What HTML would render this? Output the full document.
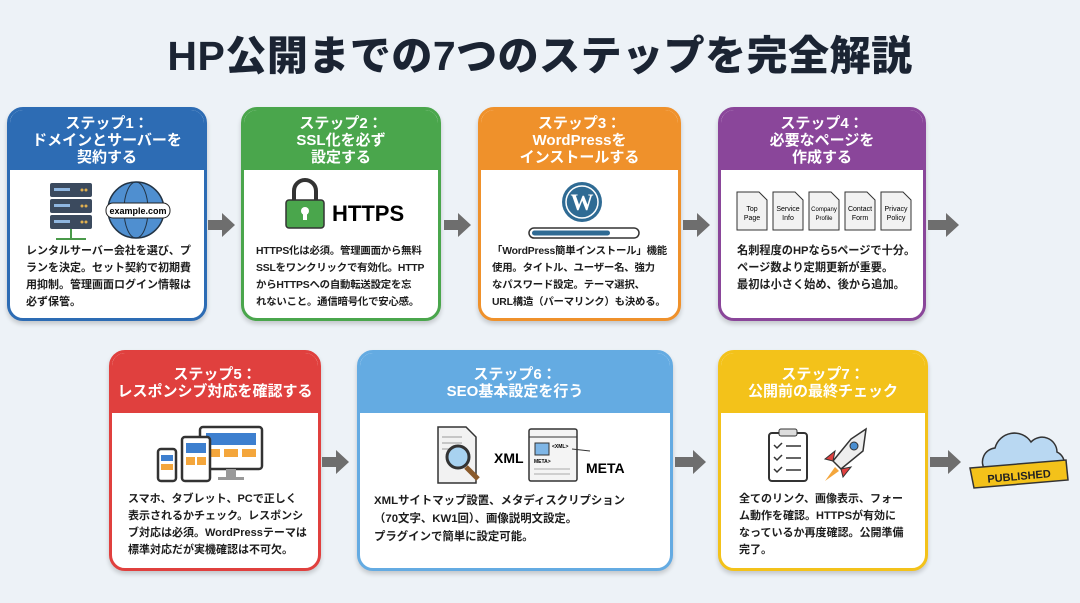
<!DOCTYPE html>
<html><head><meta charset="utf-8"><style>
*{margin:0;padding:0;box-sizing:border-box}
body{width:1080px;height:603px;background:#edf2f7;position:relative;overflow:hidden;font-family:"Liberation Sans","Noto Sans CJK JP",sans-serif;color:#1d1d1d}
h1{position:absolute;left:0;top:22px;width:1080px;text-align:center;font-size:41px;font-weight:900;color:#1b2433;letter-spacing:0.5px}
.card{position:absolute;border-radius:16px;border:3px solid;background:#fff;overflow:hidden;box-shadow:0 3px 5px rgba(0,0,0,.18)}
.hd{color:#fff;font-weight:700;font-size:15px;line-height:17px;text-align:center;display:flex;align-items:center;justify-content:center;flex-direction:column}
.tx{position:absolute;font-size:11px;font-weight:700;line-height:17px;color:#1d1d1d;white-space:nowrap}
</style></head><body>
<h1>HP公開までの7つのステップを完全解説</h1>

<div class="card" style="left:7px;top:107px;width:200px;height:214px;border-color:#2d6cb4">
<div class="hd" style="background:#2d6cb4;height:60px">ステップ1：<br>ドメインとサーバーを<br>契約する</div>
<svg style="position:absolute;left:36px;top:70px" width="130" height="65">
<g fill="#3b4a5e"><rect x="4" y="3" width="42" height="14" rx="2"/><rect x="4" y="19" width="42" height="14" rx="2"/><rect x="4" y="35" width="42" height="14" rx="2"/></g>
<g fill="#8fb6e0"><rect x="8" y="8" width="16" height="3"/><rect x="8" y="24" width="16" height="3"/><rect x="8" y="40" width="16" height="3"/></g>
<g fill="#e0b050"><circle cx="36" cy="10" r="1.5"/><circle cx="40" cy="10" r="1.5"/><circle cx="36" cy="26" r="1.5"/><circle cx="40" cy="26" r="1.5"/><circle cx="36" cy="42" r="1.5"/><circle cx="40" cy="42" r="1.5"/></g>
<line x1="25" y1="49" x2="25" y2="59" stroke="#4a9a4a" stroke-width="2"/><line x1="10" y1="59" x2="40" y2="59" stroke="#4a9a4a" stroke-width="2"/>
<circle cx="90" cy="30" r="28" fill="#4f8fd0" stroke="#234" stroke-width="1.5"/>
<ellipse cx="90" cy="30" rx="12" ry="28" fill="none" stroke="#234"/><line x1="62" y1="30" x2="118" y2="30" stroke="#234"/>
<rect x="60" y="23" width="64" height="15" rx="7" fill="#fff" stroke="#222"/>
<text x="92" y="34" font-size="9" text-anchor="middle" font-family="Liberation Sans" font-weight="bold">example.com</text>
</svg>
<div class="tx" style="left:16px;top:133px">レンタルサーバー会社を選び、プ<br>ランを決定。セット契約で初期費<br>用抑制。管理画面ログイン情報は<br>必ず保管。</div>
</div>

<div class="card" style="left:241px;top:107px;width:200px;height:214px;border-color:#4aa64c">
<div class="hd" style="background:#4aa64c;height:60px">ステップ2：<br>SSL化を必ず<br>設定する</div>
<svg style="position:absolute;left:38px;top:68px" width="140" height="52">
<path d="M12 22 V13 a11 11 0 0 1 22 0 V22" fill="none" stroke="#333" stroke-width="4"/>
<rect x="4" y="22" width="38" height="28" rx="3" fill="#4aa64c" stroke="#333" stroke-width="1.5"/>
<circle cx="23" cy="33" r="4" fill="#fff"/><rect x="21" y="34" width="4" height="8" fill="#fff"/>
<text x="50" y="43" font-size="22" font-weight="bold" font-family="Liberation Sans">HTTPS</text>
</svg>
<div class="tx" style="left:12px;top:133px;font-size:10.4px;letter-spacing:-0.2px">HTTPS化は必須。管理画面から無料<br>SSLをワンクリックで有効化。HTTP<br>からHTTPSへの自動転送設定を忘<br>れないこと。通信暗号化で安心感。</div>
</div>

<div class="card" style="left:478px;top:107px;width:203px;height:214px;border-color:#ef912b">
<div class="hd" style="background:#ef912b;height:60px">ステップ3：<br>WordPressを<br>インストールする</div>
<svg style="position:absolute;left:46px;top:70px" width="115" height="60">
<circle cx="55" cy="22" r="20" fill="#2f6b94"/><circle cx="55" cy="22" r="16" fill="none" stroke="#fff" stroke-width="1.5"/>
<text x="55" y="30" font-size="23" text-anchor="middle" fill="#fff" font-family="Liberation Serif" font-weight="bold">W</text>
<rect x="2" y="48" width="110" height="10" rx="5" fill="#fff" stroke="#333" stroke-width="1.5"/>
<rect x="5" y="50.5" width="78" height="5" rx="2.5" fill="#2f6b94"/>
</svg>
<div class="tx" style="left:11px;top:133px;font-size:10.4px;letter-spacing:-0.2px">「WordPress簡単インストール」機能<br>使用。タイトル、ユーザー名、強力<br>なパスワード設定。テーマ選択、<br>URL構造（パーマリンク）も決める。</div>
</div>

<div class="card" style="left:718px;top:107px;width:208px;height:214px;border-color:#8a469a">
<div class="hd" style="background:#8a469a;height:60px">ステップ4：<br>必要なページを<br>作成する</div>
<svg style="position:absolute;left:14px;top:80px" width="180" height="42" font-family="Liberation Sans" font-size="7" text-anchor="middle">
<g fill="#f2f2f2" stroke="#333" stroke-width="1">
<path d="M2 2 H24 L32 10 V40 H2Z"/><path d="M38 2 H60 L68 10 V40 H38Z"/><path d="M74 2 H96 L104 10 V40 H74Z"/><path d="M110 2 H132 L140 10 V40 H110Z"/><path d="M146 2 H168 L176 10 V40 H146Z"/></g>
<text x="17" y="21">Top</text><text x="17" y="30">Page</text>
<text x="53" y="21">Service</text><text x="53" y="30">Info</text>
<text x="89" y="21" font-size="6">Company</text><text x="89" y="30" font-size="6">Profile</text>
<text x="125" y="21">Contact</text><text x="125" y="30">Form</text>
<text x="161" y="21">Privacy</text><text x="161" y="30">Policy</text>
</svg>
<div class="tx" style="left:16px;top:133px;font-size:11.2px">名刺程度のHPなら5ページで十分。<br>ページ数より定期更新が重要。<br>最初は小さく始め、後から追加。</div>
</div>

<div class="card" style="left:109px;top:350px;width:212px;height:221px;border-color:#e0403e">
<div class="hd" style="background:#e0403e;height:60px">ステップ5：<br>レスポンシブ対応を確認する</div>
<svg style="position:absolute;left:40px;top:72px" width="120" height="62">
<rect x="48" y="2" width="62" height="42" rx="3" fill="#fff" stroke="#333" stroke-width="2.5"/>
<rect x="54" y="8" width="50" height="12" fill="#3d7fcf"/><rect x="54" y="24" width="14" height="8" fill="#f4a63c"/><rect x="72" y="24" width="14" height="8" fill="#f4a63c"/><rect x="90" y="24" width="14" height="8" fill="#f4a63c"/>
<rect x="74" y="44" width="10" height="8" fill="#999"/><rect x="66" y="52" width="26" height="3" fill="#999"/>
<rect x="30" y="12" width="28" height="44" rx="3" fill="#fff" stroke="#333" stroke-width="2.5"/>
<rect x="34" y="18" width="20" height="10" fill="#3d7fcf"/><rect x="34" y="32" width="9" height="8" fill="#f4a63c"/><rect x="45" y="32" width="9" height="8" fill="#f4a63c"/>
<rect x="6" y="24" width="18" height="32" rx="3" fill="#fff" stroke="#333" stroke-width="2.5"/>
<rect x="9" y="30" width="12" height="6" fill="#3d7fcf"/><rect x="9" y="39" width="12" height="6" fill="#f4a63c"/>
</svg>
<div class="tx" style="left:16px;top:138px">スマホ、タブレット、PCで正しく<br>表示されるかチェック。レスポンシ<br>ブ対応は必須。WordPressテーマは<br>標準対応だが実機確認は不可欠。</div>
</div>

<div class="card" style="left:357px;top:350px;width:316px;height:221px;border-color:#64abe2">
<div class="hd" style="background:#64abe2;height:60px">ステップ6：<br>SEO基本設定を行う</div>
<svg style="position:absolute;left:72px;top:72px" width="200" height="62" font-family="Liberation Sans" font-weight="bold">
<path d="M6 2 H34 L44 12 V58 H6Z" fill="#f2f2f2" stroke="#333" stroke-width="1.5"/>
<g stroke="#999"><line x1="10" y1="12" x2="30" y2="12"/><line x1="10" y1="18" x2="30" y2="18"/><line x1="10" y1="24" x2="30" y2="24"/></g>
<line x1="34" y1="42" x2="46" y2="54" stroke="#8a5a2b" stroke-width="5"/>
<circle cx="26" cy="32" r="11" fill="#a8d2f0" stroke="#333" stroke-width="3"/>
<text x="62" y="38" font-size="14">XML</text>
<rect x="97" y="4" width="48" height="52" rx="2" fill="#f4f4f4" stroke="#333" stroke-width="1.5"/>
<line x1="97" y1="12" x2="145" y2="12" stroke="#333"/>
<rect x="103" y="18" width="14" height="12" fill="#7fb6e6" stroke="#333"/>
<text x="120" y="23" font-size="5">&lt;XML&gt;</text><text x="102" y="38" font-size="5">META&gt;</text>
<g stroke="#aaa"><line x1="102" y1="44" x2="138" y2="44"/><line x1="102" y1="49" x2="138" y2="49"/></g>
<line x1="140" y1="24" x2="158" y2="26" stroke="#333"/>
<text x="154" y="48" font-size="14">META</text>
</svg>
<div class="tx" style="left:14px;top:139px;font-size:11.4px;line-height:18px">XMLサイトマップ設置、メタディスクリプション<br>（70文字、KW1回）、画像説明文設定。<br>プラグインで簡単に設定可能。</div>
</div>

<div class="card" style="left:718px;top:350px;width:210px;height:221px;border-color:#f3c21a">
<div class="hd" style="background:#f3c21a;height:60px">ステップ7：<br>公開前の最終チェック</div>
<svg style="position:absolute;left:40px;top:72px" width="130" height="62">
<rect x="8" y="8" width="38" height="48" rx="3" fill="#fff" stroke="#333" stroke-width="2"/>
<rect x="18" y="4" width="18" height="7" rx="2" fill="#ddd" stroke="#333"/>
<g stroke="#333" stroke-width="1.5" fill="none"><path d="M13 20 l3 3 5 -5"/><path d="M13 32 l3 3 5 -5"/><path d="M13 44 l3 3 5 -5"/><line x1="25" y1="21" x2="40" y2="21"/><line x1="25" y1="33" x2="40" y2="33"/><line x1="25" y1="45" x2="40" y2="45"/></g>
<path d="M105 4 L90 14 L72 36 L80 44 L102 26 Z" fill="#eee" stroke="#333" stroke-width="1.5"/>
<circle cx="93" cy="21" r="4" fill="#4a8ed0" stroke="#333"/>
<path d="M72 36 L64 34 L74 26Z M80 44 L82 52 L90 42Z" fill="#e04040" stroke="#333"/>
<path d="M74 42 L64 56 L78 46Z" fill="#f4a63c"/>
</svg>
<div class="tx" style="left:18px;top:138px">全てのリンク、画像表示、フォー<br>ム動作を確認。HTTPSが有効に<br>なっているか再度確認。公開準備<br>完了。</div>
</div>

<svg style="position:absolute;left:0;top:0" width="1080" height="603">
<g fill="#6e6e6e">
<path d="M208 220 h14 v-7 l13 12 -13 12 v-7 h-14z"/>
<path d="M444 220 h14 v-7 l13 12 -13 12 v-7 h-14z"/>
<path d="M683 220 h14 v-7 l13 12 -13 12 v-7 h-14z"/>
<path d="M928 220 h18 v-7 l13 12 -13 12 v-7 h-18z"/>
<path d="M322 457 h14 v-7 l13 12 -13 12 v-7 h-14z"/>
<path d="M675 457 h18 v-7 l13 12 -13 12 v-7 h-18z"/>
<path d="M930 457 h18 v-7 l13 12 -13 12 v-7 h-18z"/>
</g>
<path d="M985 470 a14 14 0 0 1 10 -22 a20 20 0 0 1 36 -6 a15 15 0 0 1 26 10 a12 12 0 0 1 0 22 h-68z" fill="#b9d8f2" stroke="#333" stroke-width="1.5"/>
<path d="M970 468 L1066 460 L1068 480 L974 488 Z" fill="#f3c21a" stroke="#333" stroke-width="1.5"/>
<text x="1019" y="480" font-size="11" font-weight="bold" text-anchor="middle" font-family="Liberation Sans" transform="rotate(-5 1019 476)" fill="#222">PUBLISHED</text>
</svg>
</body></html>
